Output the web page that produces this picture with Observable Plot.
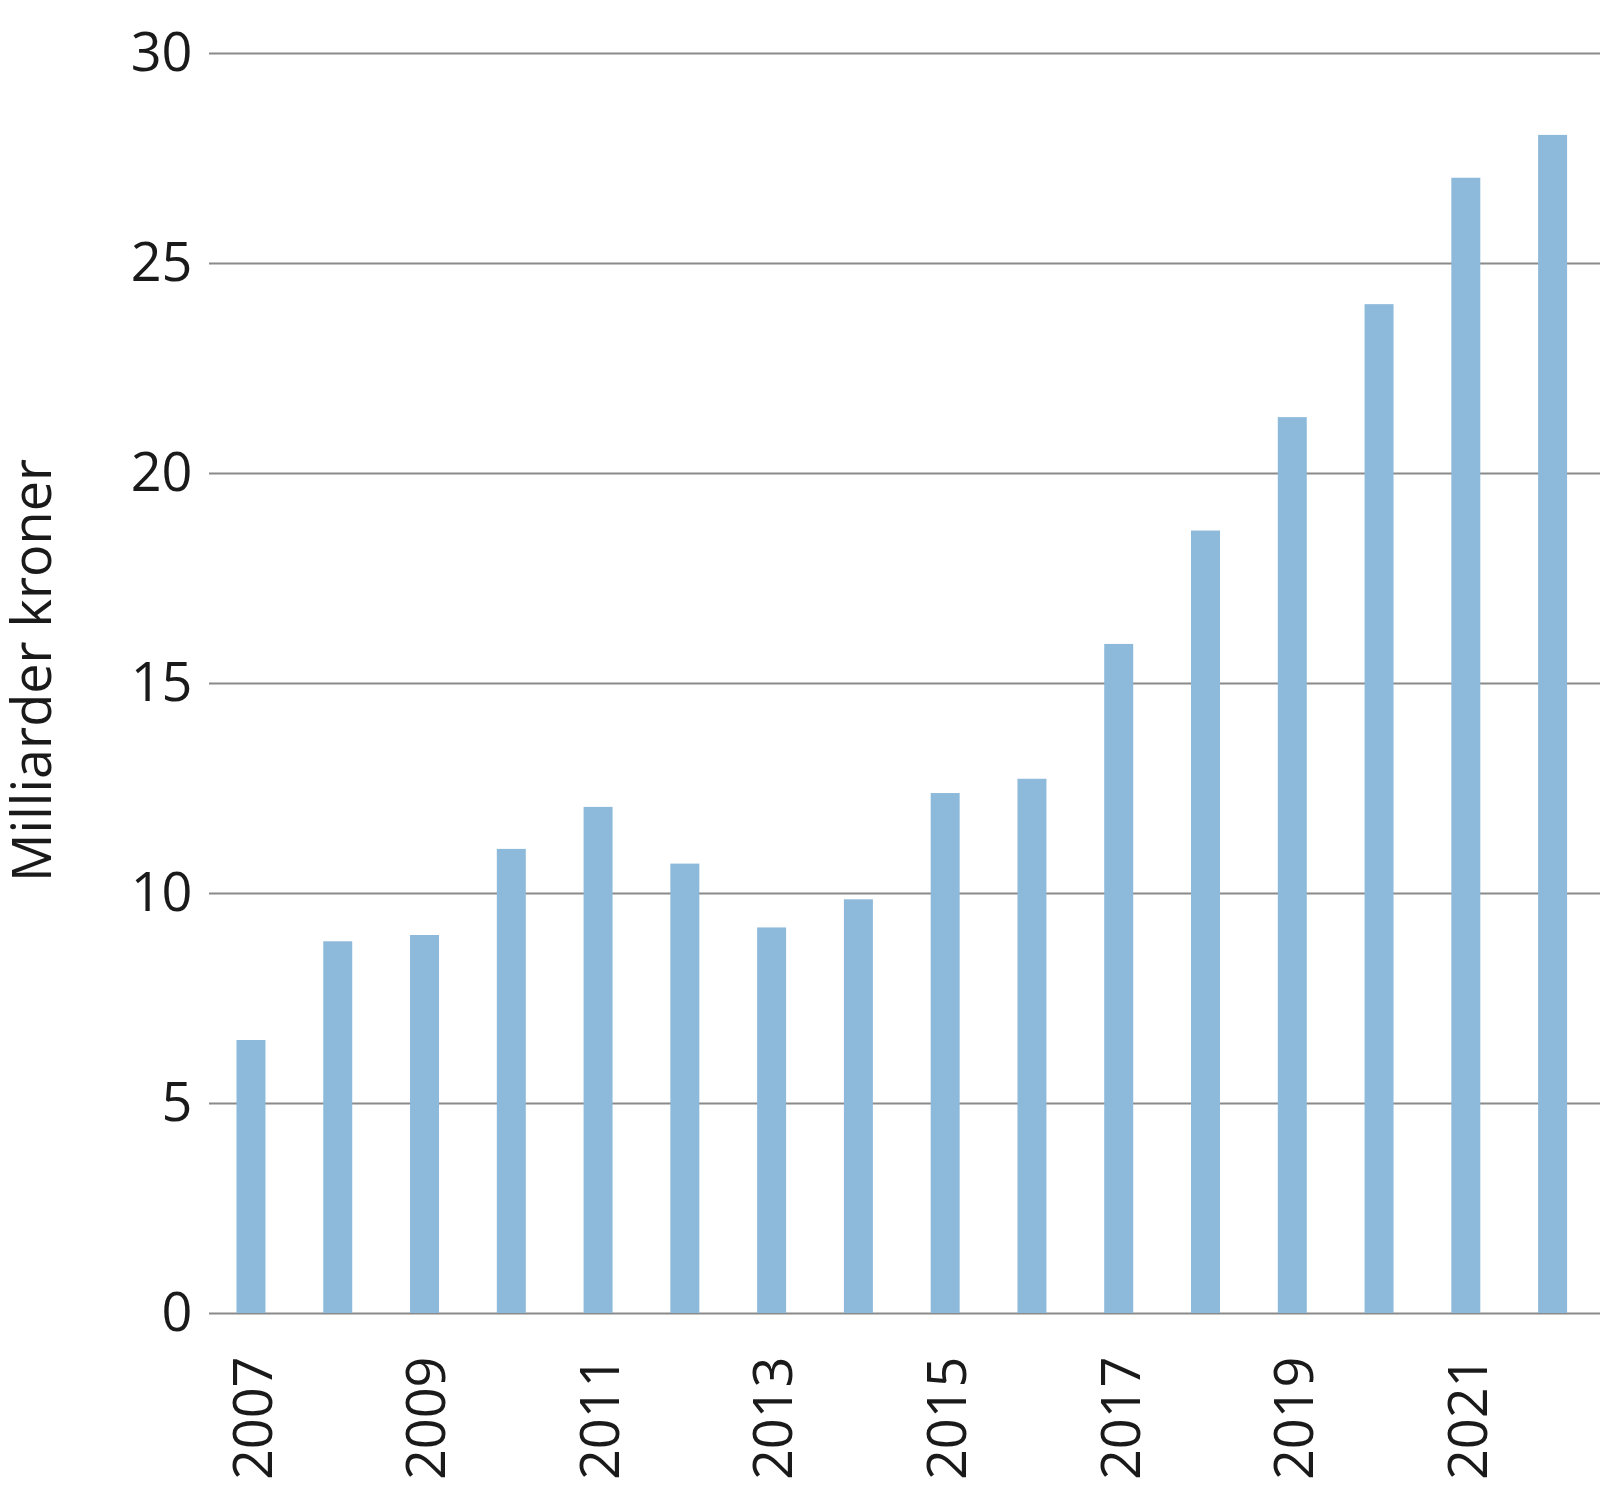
<!DOCTYPE html>
<html>
<head>
<meta charset="utf-8">
<script src="https://cdn.jsdelivr.net/npm/d3@7"></script>
<script src="https://cdn.jsdelivr.net/npm/@observablehq/plot@0.6"></script>
<style>
  html, body { margin: 0; padding: 0; background: #fff; }
  #chart svg { display: block; }
</style>
</head>
<body>
<div id="chart"></div>
<script>
const years = ["2007","2008","2009","2010","2011","2012","2013","2014","2015","2016","2017","2018","2019","2020","2021","2022"];
const values = [6.5, 8.85, 9.0, 11.05, 12.05, 10.7, 9.18, 9.85, 12.38, 12.72, 15.93, 18.63, 21.33, 24.02, 27.03, 28.05];
const yTicks = [0, 5, 10, 15, 20, 25, 30];
const xTickLabels = ["2007","2009","2011","2013","2015","2017","2019","2021"];
const yLabel = "Milliarder kroner";

const data = years.map((year, i) => ({year, value: values[i]}));
const font = "'Open Sans', sans-serif";

const chart = Plot.plot({
  width: 1600,
  height: 1500,
  marginLeft: 209,
  marginRight: 0,
  marginTop: 53,
  marginBottom: 187,
  style: {fontFamily: font, color: "#1a1a1a", background: "#fff"},
  x: {type: "band", domain: years, paddingInner: 0.666, paddingOuter: 0.348, align: 0.455, round: false},
  y: {domain: [0, 30]},
  marks: [
    Plot.ruleY(yTicks, {stroke: "#8a8a8a", strokeWidth: 2}),
    Plot.barY(data, {x: "year", y: "value", fill: "#8dbadb"}),
    Plot.axisY({ticks: yTicks, tickSize: 0, tickPadding: 17, fontSize: 54, label: null, fill: "#1a1a1a"}),
    Plot.axisX({ticks: xTickLabels, tickSize: 0, tickPadding: 43, tickRotate: -90, fontSize: 54, dx: 3, label: null, fill: "#1a1a1a"}),
    Plot.text([yLabel], {frameAnchor: "left", textAnchor: "middle", lineAnchor: "middle", dx: -176, dy: -13, rotate: -90, fontSize: 54, fill: "#1a1a1a", text: d => d})
  ]
});
document.getElementById("chart").appendChild(chart);
</script>
</body>
</html>
